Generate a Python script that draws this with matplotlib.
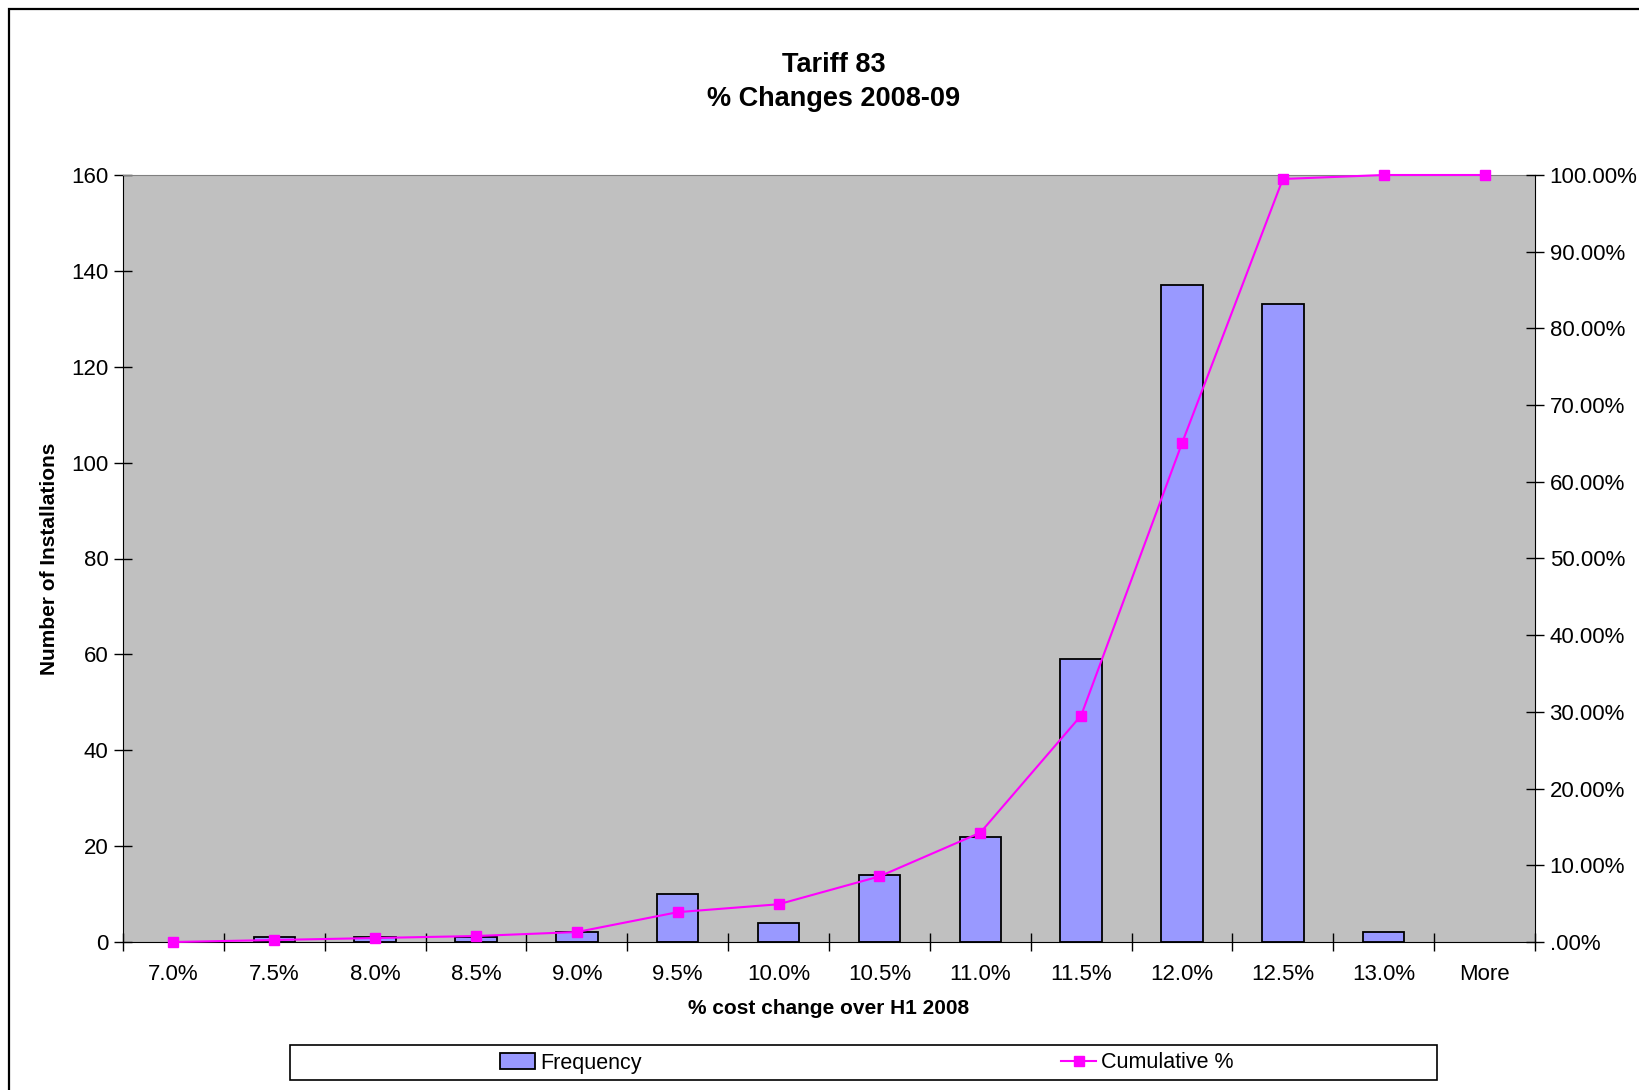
import matplotlib.pyplot as plt
from matplotlib.patches import Rectangle, Patch
from matplotlib.lines import Line2D
from matplotlib.ticker import FuncFormatter, FixedLocator

plt.rcParams['font.family'] = ['Liberation Sans', 'DejaVu Sans']

# histogram bins and counts
bins = ['7.0%', '7.5%', '8.0%', '8.5%', '9.0%', '9.5%', '10.0%', '10.5%',
        '11.0%', '11.5%', '12.0%', '12.5%', '13.0%', 'More']
frequency = [0, 1, 1, 1, 2, 10, 4, 14, 22, 59, 137, 133, 2, 0]
cumulative = [0.00, 0.26, 0.52, 0.78, 1.30, 3.89, 4.92, 8.55,
              14.25, 29.53, 65.03, 99.48, 100.00, 100.00]

W, H = 1639, 1090
fig = plt.figure(figsize=(W / 100, H / 100), dpi=100)

# outer chart border (runs off the right and bottom edges)
fig.patches.append(Rectangle((9 / W, -0.1), 1.2, (H - 9) / H + 0.1,
                             transform=fig.transFigure, fill=False,
                             edgecolor='black', linewidth=1.6))

ax = fig.add_axes([123 / W, 1 - 942 / H, (1535 - 123) / W, (942 - 175) / H])
ax.set_facecolor('#C0C0C0')

x = list(range(len(bins)))
bars = ax.bar(x, frequency, width=0.41, color='#9999FF', edgecolor='black', linewidth=1.3, zorder=2)
for b, f in zip(bars, frequency):
    if f == 0:
        b.set_visible(False)
ax.set_xlim(-0.5, len(bins) - 0.5)
ax.set_ylim(0, 160)
ax.set_yticks(range(0, 161, 20))
ax.set_xticks(x)
ax.set_xticklabels(bins)
ax.xaxis.set_minor_locator(FixedLocator([i - 0.5 for i in range(len(bins) + 1)]))
ax.tick_params(axis='x', which='major', length=0, pad=16, labelsize=16)
ax.tick_params(axis='x', which='minor', length=13, direction='inout', width=1)
ax.tick_params(axis='y', length=13, direction='inout', width=1, labelsize=16, pad=4)
for side in ['left', 'bottom']:
    ax.spines[side].set_color('black')
ax.spines['top'].set_color('#808080')
ax.spines['right'].set_visible(False)

ax.set_xlabel('% cost change over H1 2008', fontsize=15, fontweight='bold', labelpad=10)
ax.set_ylabel('Number of Installations', fontsize=15, fontweight='bold', labelpad=8.5)

ax2 = ax.twinx()
ax2.plot(x, cumulative, color='#FF00FF', linewidth=1.5, marker='s', markersize=7, clip_on=False)
ax2.set_ylim(0, 100)
ax2.set_yticks(range(0, 101, 10))
ax2.yaxis.set_major_formatter(FuncFormatter(lambda v, p: '.00%' if v == 0 else f'{v:.2f}%'))
ax2.tick_params(axis='y', length=13, direction='inout', width=1, labelsize=16, pad=4)
ax2.spines['right'].set_color('black')
ax2.spines['top'].set_visible(False)
ax2.spines['left'].set_visible(False)
ax2.spines['bottom'].set_visible(False)

fig.text(834 / W, 1 - 82 / H, 'Tariff 83\n% Changes 2008-09', ha='center', va='center',
         fontsize=19.5, fontweight='bold', linespacing=1.4)

# legend box
fig.patches.append(Rectangle((290 / W, 1 - 1080 / H), (1437 - 290) / W, 35 / H,
                             transform=fig.transFigure, facecolor='white',
                             edgecolor='black', linewidth=1.2))
handles = [Patch(facecolor='#9999FF', edgecolor='black', linewidth=1.3),
           Line2D([], [], color='#FF00FF', marker='s', markersize=7, linewidth=1.5)]
fig.legend(handles, ['Frequency', 'Cumulative %'], ncol=2, frameon=False,
           loc='center', bbox_to_anchor=(867 / W, 1 - 1063 / H), fontsize=15.5,
           handlelength=1.6, handletextpad=0.25, columnspacing=19.5)

fig.savefig('out.png', dpi=100)
